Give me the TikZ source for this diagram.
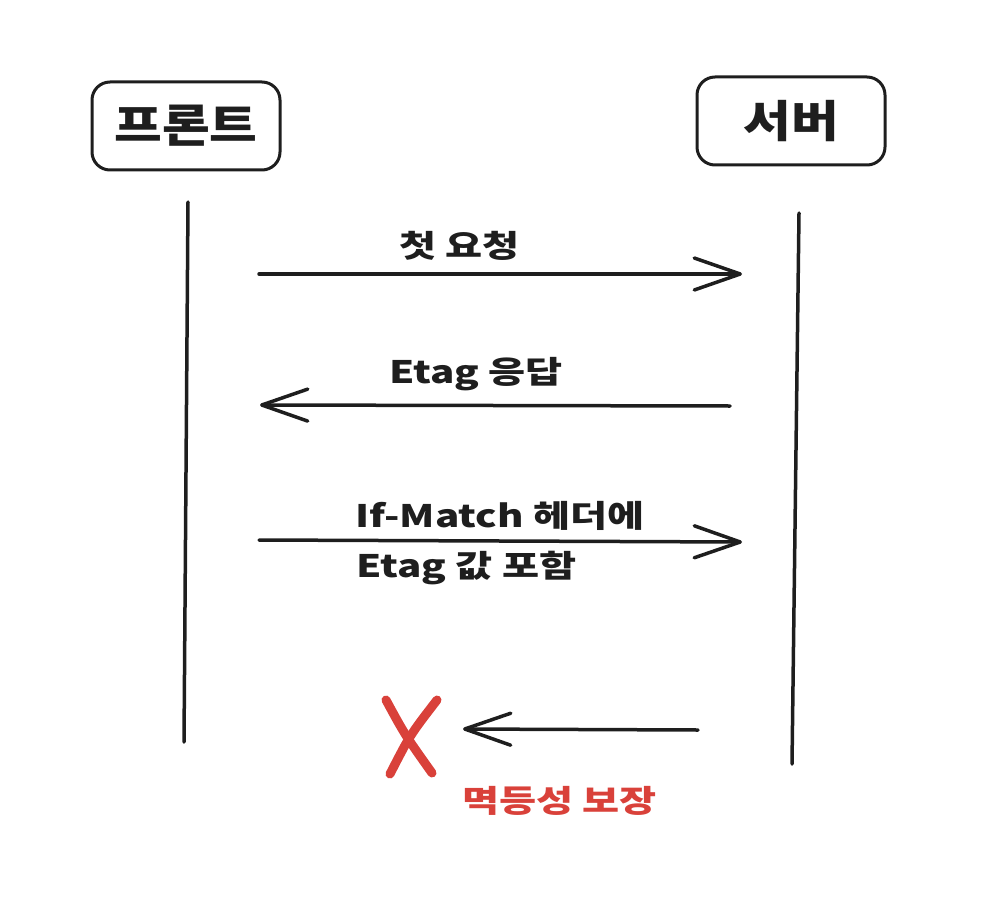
\documentclass[tikz,border=0pt]{standalone}
\usepackage{fontspec}
\setmainfont{Noto Sans CJK KR}
\newfontfamily\hand[FakeStretch=1.3]{Noto Sans CJK KR}
\newfontfamily\handbox[FakeStretch=1.18]{Noto Sans CJK KR}
\usetikzlibrary{arrows.meta}
\definecolor{ink}{HTML}{1E1E1E}
\definecolor{redink}{HTML}{D9413A}
\begin{document}
\begin{tikzpicture}[x=1pt,y=-1pt,
  actor/.style={draw=ink,line width=3pt,rounded corners=18pt,minimum width=188pt,minimum height=88pt,inner sep=0pt,font=\handbox\bfseries\fontsize{44}{48}\selectfont,text=ink},
  life/.style={draw=ink,line width=3.5pt,line cap=round},
  msg/.style={draw=ink,line width=3.5pt,line cap=round,-{Straight Barb[length=46pt,width=32pt,line width=3.5pt,round]}},
  lbl/.style={font=\hand\bfseries\fontsize{31}{36}\selectfont,text=ink,inner sep=0pt},
  cross/.style={draw=redink,line width=9pt,line cap=round}]
\useasboundingbox (0,0) rectangle (992,896);
\node[actor] (front) at (186,126) {프론트};
\node[actor] (server) at (791,121) {서버};
\coordinate (fl1) at (188,202);
\coordinate (fl2) at (184,742);
\coordinate (sl1) at (799,213);
\coordinate (sl2) at (792,764);
\draw[life] (fl1) -- (fl2);
\draw[life] (sl1) -- (sl2);
\coordinate (a1s) at (259,274);
\coordinate (a1e) at (742,274);
\coordinate (a2s) at (730,406);
\coordinate (a2e) at (260,405);
\coordinate (a3s) at (259,540);
\coordinate (a3e) at (742,542);
\coordinate (a4s) at (698,730);
\coordinate (a4e) at (463,729);
\draw[msg] (a1s) -- (a1e);
\draw[msg] (a2s) -- (a2e);
\draw[msg] (a3s) -- (a3e);
\draw[msg] (a4s) -- (a4e);
\node[lbl,anchor=west] (t1) at (399,246) {첫 요청};
\node[lbl,anchor=west] (t2) at (389,374) {Etag 응답};
\node[lbl,anchor=west] (t3) at (355,516) {If-Match 헤더에};
\node[lbl,anchor=west] (t4) at (356,568) {Etag 값 포함};
\coordinate (x1) at (386,700);
\coordinate (x2) at (432,773);
\coordinate (x3) at (437,700);
\coordinate (x4) at (390,774);
\draw[cross] (x1) .. controls (405,735) .. (x2);
\draw[cross] (x3) .. controls (410,735) .. (x4);
\node[lbl,text=redink,anchor=west] (t5) at (462,801) {멱등성 보장};
\end{tikzpicture}
\end{document}
